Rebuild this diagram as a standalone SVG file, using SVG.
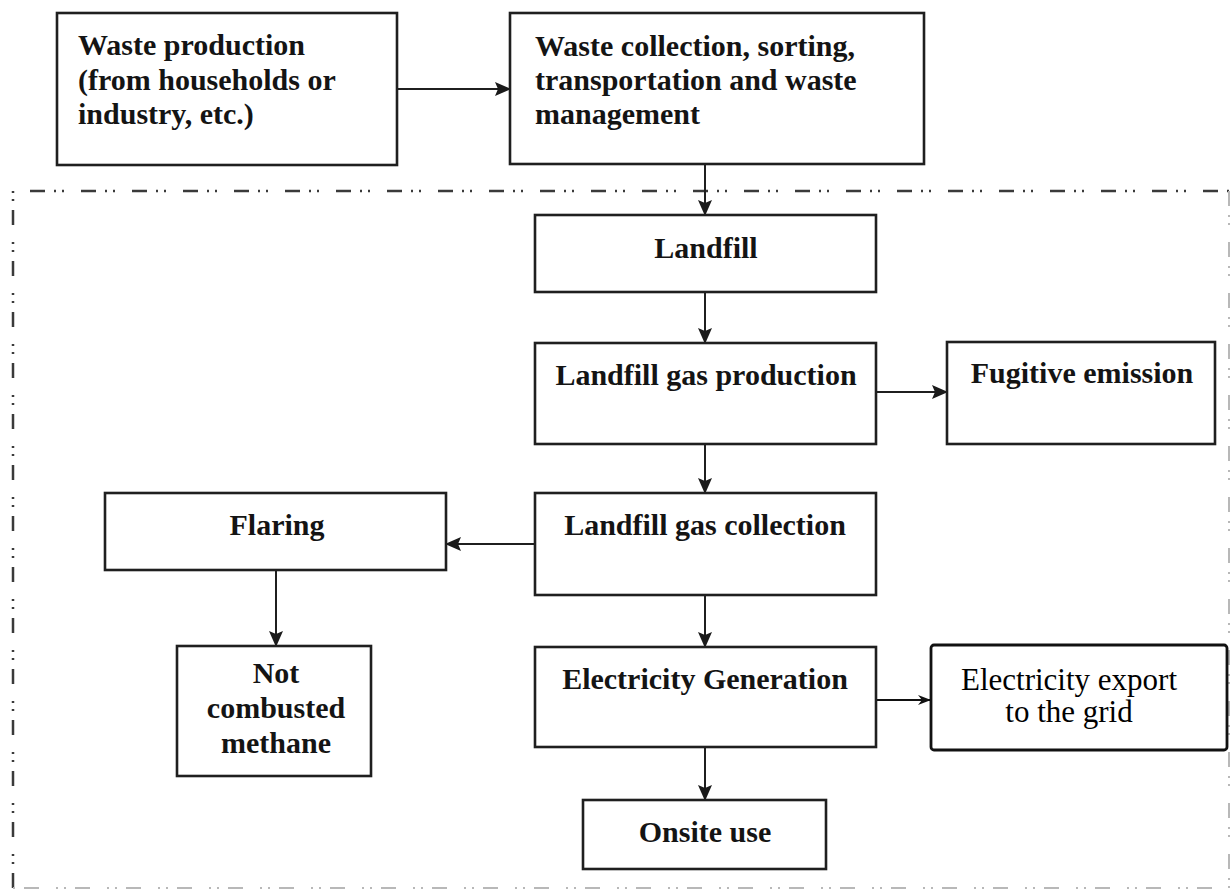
<svg xmlns="http://www.w3.org/2000/svg" width="1231" height="892" viewBox="0 0 1231 892">
<defs>
<marker id="ah" markerWidth="16" markerHeight="14" refX="15" refY="7" orient="auto" markerUnits="userSpaceOnUse">
<path d="M0,0 L16,7 L0,14 L3,7 Z" fill="#1a1a1a"/>
</marker>
<marker id="ao" markerWidth="14" markerHeight="12" refX="13" refY="6" orient="auto" markerUnits="userSpaceOnUse">
<path d="M0,1 L13,6 L0,11 L4,6 Z" fill="#111"/>
</marker>
</defs>
<style>
.box{fill:#fff;stroke:#1f1f1f;stroke-width:2.6}
.t{font-family:"Liberation Serif","Times New Roman",serif;font-weight:bold;font-size:30px;fill:#141414}
.c{text-anchor:middle}
.r{font-family:"Liberation Serif","Times New Roman",serif;font-size:31px;fill:#000;text-anchor:middle}
.ln{stroke:#1f1f1f;stroke-width:2;fill:none;marker-end:url(#ah)}
.thin{stroke:#111;stroke-width:1.8;fill:none;marker-end:url(#ao)}
.bound{fill:none;stroke:#3a3a3a;stroke-width:2.5;stroke-dasharray:15 9 2 6 2 17}
.faint{fill:none;stroke:#b8b8b8;stroke-width:2;stroke-dasharray:15 9 2 6 2 17}
</style>
<rect width="1231" height="892" fill="#fff"/>
<g id="boundary">
<path class="bound" d="M13,888 L13,191 L1229,191"/>
<path class="faint" d="M1229,191 L1229,888 L13,888"/>
</g>
<g id="connectors">
<line class="ln" x1="397" y1="89" x2="510" y2="89"/>
<line class="ln" x1="705" y1="164" x2="705" y2="215"/>
<line class="ln" x1="705" y1="292" x2="705" y2="343"/>
<line class="ln" x1="876" y1="392" x2="947" y2="392"/>
<line class="ln" x1="705" y1="444" x2="705" y2="493"/>
<line class="ln" x1="535" y1="544" x2="446" y2="544"/>
<line class="ln" x1="276" y1="570" x2="276" y2="646"/>
<line class="ln" x1="705" y1="595" x2="705" y2="647"/>
<line class="thin" x1="876" y1="700" x2="931" y2="700"/>
<line class="ln" x1="705" y1="747" x2="705" y2="800"/>
</g>
<g id="waste-production">
<rect class="box" x="57" y="13" width="340" height="152"/>
<text class="t" x="78" y="55">Waste production</text>
<text class="t" x="78" y="90">(from households or</text>
<text class="t" x="78" y="124">industry, etc.)</text>
</g>
<g id="waste-collection">
<rect class="box" x="510" y="13" width="414" height="151"/>
<text class="t" x="535" y="56">Waste collection, sorting,</text>
<text class="t" x="535" y="90">transportation and waste</text>
<text class="t" x="535" y="124">management</text>
</g>
<g id="landfill">
<rect class="box" x="535" y="215" width="341" height="77"/>
<text class="t c" x="706" y="258">Landfill</text>
</g>
<g id="landfill-gas-production">
<rect class="box" x="535" y="343" width="341" height="101"/>
<text class="t c" x="706" y="385">Landfill gas production</text>
</g>
<g id="fugitive-emission">
<rect class="box" x="947" y="342" width="268" height="102"/>
<text class="t c" x="1082" y="383">Fugitive emission</text>
</g>
<g id="landfill-gas-collection">
<rect class="box" x="535" y="493" width="341" height="102"/>
<text class="t c" x="705" y="535">Landfill gas collection</text>
</g>
<g id="flaring">
<rect class="box" x="105" y="493" width="341" height="77"/>
<text class="t c" x="277" y="535">Flaring</text>
</g>
<g id="not-combusted">
<rect class="box" x="177" y="646" width="194" height="130"/>
<text class="t c" x="276" y="683">Not</text>
<text class="t c" x="276" y="718">combusted</text>
<text class="t c" x="276" y="753">methane</text>
</g>
<g id="electricity-generation">
<rect class="box" x="535" y="647" width="341" height="100"/>
<text class="t c" x="705" y="689">Electricity Generation</text>
</g>
<g id="electricity-export">
<rect x="931" y="645" width="296" height="105" rx="3" fill="#fff" stroke="#111" stroke-width="2.8"/>
<text class="r" x="1069" y="690">Electricity export</text>
<text class="r" x="1069" y="722">to the grid</text>
</g>
<g id="onsite-use">
<rect class="box" x="583" y="800" width="243" height="69"/>
<text class="t c" x="705" y="842">Onsite use</text>
</g>
</svg>
